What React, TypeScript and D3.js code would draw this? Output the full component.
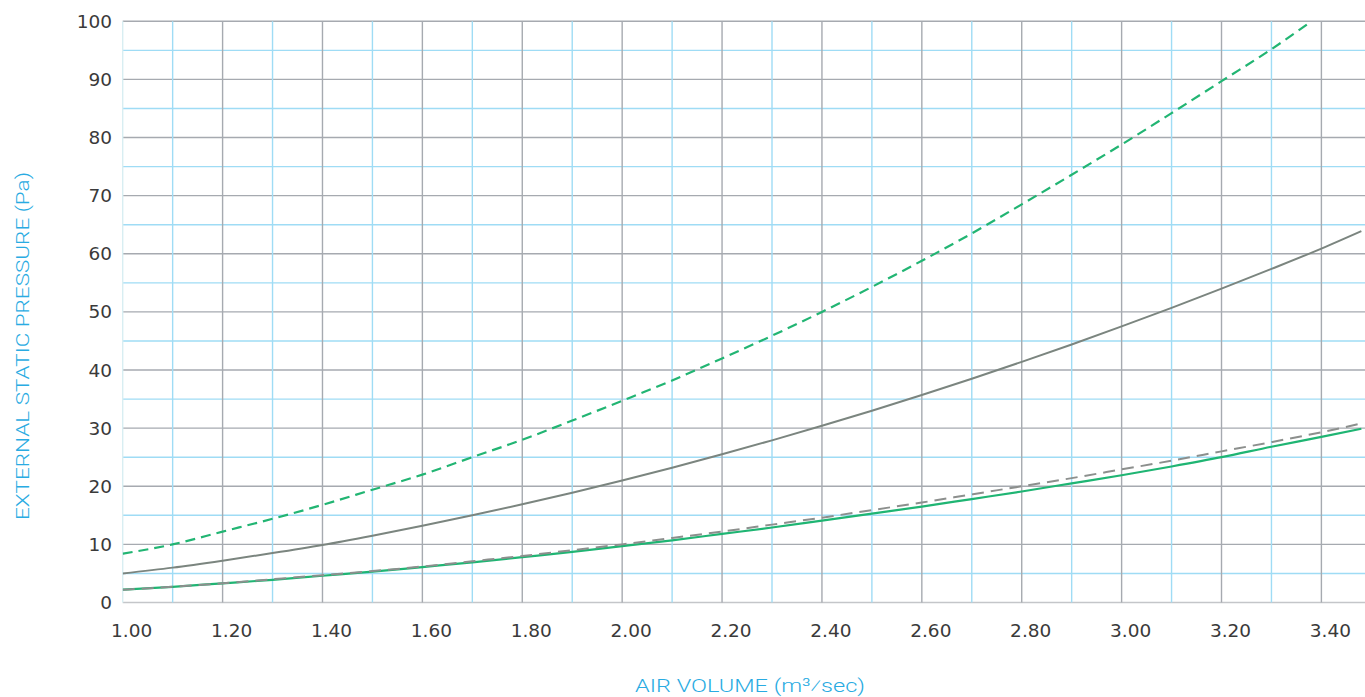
import React from "react";
import * as d3 from "d3";

const xTicks = [1.0, 1.2, 1.4, 1.6, 1.8, 2.0, 2.2, 2.4, 2.6, 2.8, 3.0, 3.2, 3.4];
const yTicks = [0, 10, 20, 30, 40, 50, 60, 70, 80, 90, 100];

const airVolume = [1.0, 1.1, 1.2, 1.3, 1.4, 1.5, 1.6, 1.7, 1.8, 1.9, 2.0, 2.1, 2.2, 2.3, 2.4, 2.5, 2.6, 2.7, 2.8, 2.9, 3.0, 3.1, 3.2, 3.3, 3.4, 3.48];

const greenDashedX = [1.0, 1.1, 1.2, 1.3, 1.4, 1.5, 1.6, 1.7, 1.8, 1.9, 2.0, 2.1, 2.2, 2.3, 2.4, 2.5, 2.6, 2.7, 2.8, 2.9, 3.0, 3.1, 3.2, 3.3, 3.38];
const greenDashed = [8.4, 10.0, 12.2, 14.4, 16.8, 19.4, 22.0, 25.0, 28.0, 31.3, 34.7, 38.2, 42.0, 45.9, 50.0, 54.3, 58.8, 63.5, 68.5, 73.6, 78.8, 84.2, 89.7, 95.2, 100.0];
const graySolid = [5.0, 6.0, 7.2, 8.5, 9.9, 11.5, 13.2, 15.0, 16.9, 18.9, 21.0, 23.2, 25.5, 27.9, 30.4, 33.0, 35.7, 38.5, 41.4, 44.4, 47.5, 50.7, 54.0, 57.4, 60.9, 63.9];
const grayDashed = [2.2, 2.7, 3.3, 4.0, 4.7, 5.4, 6.2, 7.1, 8.0, 9.0, 10.0, 11.1, 12.2, 13.4, 14.6, 15.9, 17.2, 18.6, 20.0, 21.4, 22.9, 24.4, 26.0, 27.6, 29.3, 30.8];
const greenSolid = [2.2, 2.7, 3.3, 3.9, 4.6, 5.3, 6.1, 6.9, 7.8, 8.7, 9.7, 10.7, 11.8, 12.9, 14.1, 15.3, 16.5, 17.8, 19.1, 20.5, 21.9, 23.4, 25.0, 26.8, 28.5, 29.9];

const W = 1365;
const H = 697;
const left = 122.7;
const right = 1365;
const top = 21.3;
const bottom = 602.5;

export default function App() {
  const x = d3.scaleLinear().domain([1, 3.4]).range([left, 1321.4]);
  const y = d3.scaleLinear().domain([0, 100]).range([bottom, top]);
  const line = (xs: number[], vals: number[]) =>
    d3
      .line<number>()
      .x((_, i) => x(xs[i]))
      .y((v) => y(v))
      .curve(d3.curveMonotoneX)(vals) as string;

  const vGrid = d3.range(0, 25).map((i) => 1 + i * 0.1);
  const hGrid = d3.range(0, 21).map((i) => i * 5);
  const lightBlue = "#9fdcf5";
  const gridGray = "#a6aab0";

  return (
    <svg
      width={W}
      height={H}
      style={{ position: "absolute", left: 0, top: 0, background: "#fff" }}
    >
      <defs>
        <clipPath id="plot">
          <rect x={left} y={0} width={right - left} height={bottom} />
        </clipPath>
      </defs>
      {hGrid.map((v, i) => (
        <line
          key={"h" + i}
          x1={left}
          x2={right}
          y1={y(v)}
          y2={y(v)}
          stroke={i % 2 === 0 ? (v === 0 ? "#c4c6c9" : gridGray) : lightBlue}
          strokeWidth={1.4}
        />
      ))}
      {vGrid.map((v, i) => (
        <line
          key={"v" + i}
          x1={x(v)}
          x2={x(v)}
          y1={top}
          y2={bottom}
          stroke={i === 0 ? "#d8eef2" : i % 2 === 0 ? gridGray : lightBlue}
          strokeWidth={1.4}
        />
      ))}
      <g clipPath="url(#plot)" fill="none">
        <path d={line(airVolume, graySolid)} stroke="#7b857f" strokeWidth={2} />
        <path d={line(airVolume, greenSolid)} stroke="#1fb573" strokeWidth={2.2} />
        <path d={line(airVolume, grayDashed)} stroke="#8c8f8d" strokeWidth={2} strokeDasharray="12 7" />
        <path d={line(greenDashedX, greenDashed)} stroke="#22b573" strokeWidth={2.2} strokeDasharray="10 6" />
      </g>
      {yTicks.map((t) => (
        <text
          key={"yt" + t}
          x={112}
          y={y(t) + 6.5}
          textAnchor="end"
          fontFamily="DejaVu Sans"
          fontSize={18.5}
          fill="#3a3a3a"
        >
          {t}
        </text>
      ))}
      {xTicks.map((t) => (
        <text
          key={"xt" + t}
          x={x(t) + 9}
          y={637}
          textAnchor="middle"
          fontFamily="DejaVu Sans"
          fontSize={18.5}
          fill="#3a3a3a"
        >
          {t.toFixed(2)}
        </text>
      ))}
      <text
        transform="translate(29,346) rotate(-90)"
        textAnchor="middle"
        fontFamily="Roboto"
        fontWeight={300}
        fontSize={19}
        fill="#29abe2"
        textLength={348}
        lengthAdjust="spacingAndGlyphs"
      >
        EXTERNAL STATIC PRESSURE (Pa)
      </text>
      <text
        x={750}
        y={692}
        textAnchor="middle"
        fontFamily="Roboto"
        fontWeight={300}
        fontSize={19}
        fill="#29abe2"
        textLength={230}
        lengthAdjust="spacingAndGlyphs"
      >
        AIR VOLUME (m³⁄sec)
      </text>
    </svg>
  );
}
